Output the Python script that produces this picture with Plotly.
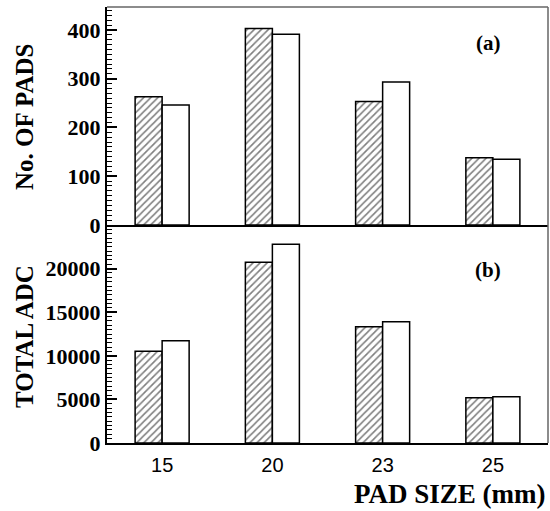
import plotly.graph_objects as go
from plotly.subplots import make_subplots

pad_sizes = ["15", "20", "23", "25"]
x_pos = [0, 1, 2, 3]
pads_hatched = [263, 403, 253, 138]
pads_open = [246, 391, 293, 135]
adc_hatched = [10520, 20720, 13340, 5200]
adc_open = [11730, 22790, 13910, 5310]
pads_ticks = [0, 100, 200, 300, 400]
adc_ticks = [0, 5000, 10000, 15000, 20000]

fig = make_subplots(rows=2, cols=1, shared_xaxes=True, vertical_spacing=0)

def add_pair(h, o, row):
    fig.add_trace(go.Bar(x=x_pos, y=h, marker=dict(color="white",
                   line=dict(color="black", width=1.5),
                   pattern=dict(shape="/", fgcolor="black", bgcolor="white", size=5, solidity=0.32)),
                   showlegend=False, hoverinfo="skip"), row=row, col=1)
    fig.add_trace(go.Bar(x=x_pos, y=o, marker=dict(color="white",
                   line=dict(color="black", width=1.5)),
                   showlegend=False, hoverinfo="skip"), row=row, col=1)

add_pair(pads_hatched, pads_open, 1)
add_pair(adc_hatched, adc_open, 2)

serif_b = dict(family="Liberation Serif", color="black", weight="bold")

fig.update_layout(
    width=550, height=511,
    margin=dict(l=107, r=2, t=7, b=68, autoexpand=False),
    plot_bgcolor="white", paper_bgcolor="white",
    barmode="group", bargap=0.51, bargroupgap=0,
)

fig.update_xaxes(range=[-0.5, 3.5], tickmode="array", tickvals=x_pos, ticktext=pad_sizes,
                 showline=True, linecolor="black", linewidth=2, ticks="", showgrid=False,
                 zeroline=False, automargin=False,
                 tickfont=dict(family="Liberation Sans", size=20, color="black"))
fig.update_xaxes(ticklabelstandoff=3, row=2, col=1)
fig.update_xaxes(showticklabels=False, row=1, col=1)

fig.update_yaxes(showline=True, linecolor="black", linewidth=2, ticks="inside", ticklen=10,
                 tickwidth=1.5, tickcolor="black", showgrid=False, zeroline=False,
                 automargin=False, tickmode="array", tickformat="d",
                 tickfont=dict(size=22, **serif_b))
fig.update_yaxes(range=[0, 447], tickvals=pads_ticks,
                 minor=dict(ticks="inside", ticklen=5, dtick=10, tick0=0, tickcolor="black", tickwidth=1, showgrid=False),
                 row=1, col=1)
fig.update_yaxes(range=[0, 25000], tickvals=adc_ticks,
                 minor=dict(ticks="inside", ticklen=5, dtick=500, tick0=0, tickcolor="black", tickwidth=1, showgrid=False),
                 row=2, col=1)

# frame top and right
fig.add_shape(type="line", xref="paper", yref="paper", x0=0, x1=1, y0=1, y1=1,
              line=dict(color="#666666", width=1.5))
fig.add_shape(type="line", xref="paper", yref="paper", x0=1, x1=1, y0=0, y1=1,
              line=dict(color="#666666", width=1.5))

def px2paper(px, py):
    return (px - 107) / 441, (443 - py) / 436

ann = []
ax, ay = px2paper(488, 43)
ann.append(dict(x=ax, y=ay, text="(a)", font=dict(size=21, **serif_b)))
ax, ay = px2paper(488, 270)
ann.append(dict(x=ax, y=ay, text="(b)", font=dict(size=21, **serif_b)))
ax, ay = px2paper(24, 117)
ann.append(dict(x=ax, y=ay, text="No. OF PADS", textangle=-90, font=dict(size=25, **serif_b)))
ax, ay = px2paper(24, 337)
ann.append(dict(x=ax, y=ay, text="TOTAL ADC", textangle=-90, font=dict(size=25, **serif_b)))
ax, ay = px2paper(548, 494)
ann.append(dict(x=ax, y=ay, text="PAD SIZE (mm)", xanchor="right", font=dict(size=27, **serif_b)))
for a in ann:
    a.setdefault("xanchor", "center")
    a.update(xref="paper", yref="paper", showarrow=False, yanchor="middle")
fig.update_layout(annotations=ann)

fig.write_html("out.html", config={"displayModeBar": False},
               post_script="document.body.style.margin='0px';")
